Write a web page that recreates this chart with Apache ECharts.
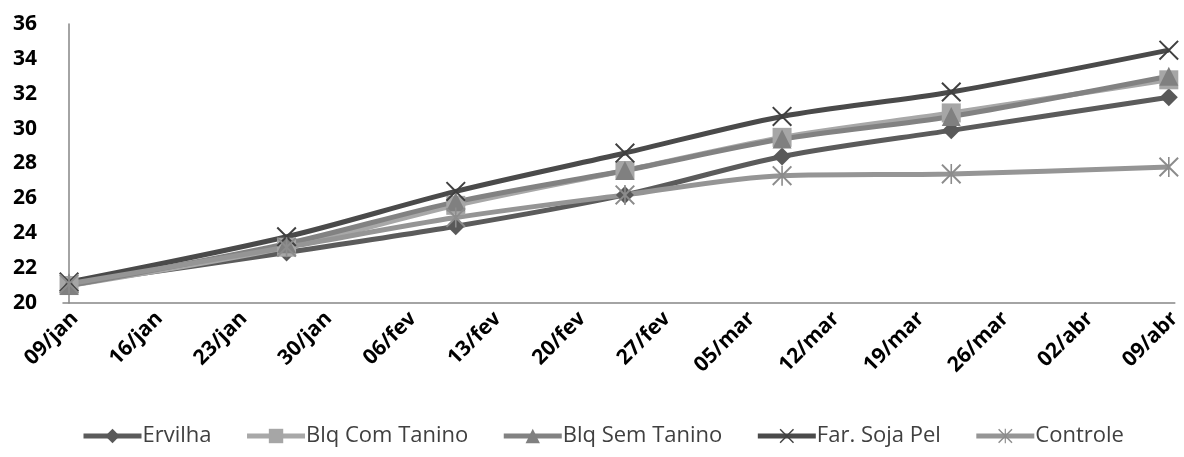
<!DOCTYPE html>
<html>
<head>
<meta charset="utf-8">
<script src="https://cdn.jsdelivr.net/npm/echarts@6/dist/echarts.min.js"></script>
<style>html,body{margin:0;padding:0;background:#fff;}#c{width:1184px;height:457px;}</style>
</head>
<body>
<div id="c"></div>
<script>
const dates = ['2012-01-09','2012-01-27','2012-02-10','2012-02-24','2012-03-08','2012-03-22','2012-04-09'];
const seriesNames = ['Ervilha','Blq Com Tanino','Blq Sem Tanino','Far. Soja Pel','Controle'];
const ervilha  = [21.1, 22.9, 24.4, 26.2, 28.4, 29.9, 31.8];
const blqCom   = [21.0, 23.2, 25.6, 27.6, 29.5, 30.9, 32.8];
const blqSem   = [21.0, 23.4, 25.8, 27.6, 29.4, 30.7, 33.0];
const farSoja  = [21.2, 23.8, 26.4, 28.6, 30.7, 32.1, 34.5];
const controle = [21.1, 23.2, 24.9, 26.2, 27.3, 27.4, 27.8];
const tickDays = [0,7,14,21,28,35,42,49,56,63,70,77,84,91];
const months = ['jan','fev','mar','abr','mai','jun','jul','ago','set','out','nov','dez'];

const DAY = 86400000;
const t0 = Date.parse(dates[0]);
const xs = dates.map(d => (Date.parse(d) - t0) / DAY);
function fmt(v){
  const d = new Date(t0 + Math.round(v) * DAY);
  const dd = String(d.getUTCDate()).padStart(2,'0');
  return dd + '/' + months[d.getUTCMonth()];
}
const pts = arr => arr.map((v,i) => [xs[i], v]);

const X = 'path://M0,7 L7,0 L50,43 L93,0 L100,7 L57,50 L100,93 L93,100 L50,57 L7,100 L0,93 L43,50 Z';
const AST = 'path://M0,7 L7,0 L50,43 L93,0 L100,7 L57,50 L100,93 L93,100 L50,57 L7,100 L0,93 L43,50 Z M46,0 L54,0 L54,100 L46,100 Z';

const styles = [
  {data: ervilha, line:'#5b5b5b', mark:'#595959', symbol:'diamond', size:18},
  {data: blqCom,  line:'#a8a8a8', mark:'#a6a6a6', symbol:'rect', size:19},
  {data: blqSem,  line:'#828282', mark:'#808080', symbol:'triangle', size:19},
  {data: farSoja, line:'#4a4a4a', mark:'#404040', symbol:X, size:20},
  {data: controle,line:'#959595', mark:'#8c8c8c', symbol:AST, size:20}
];

const chart = echarts.init(document.getElementById('c'), null, {renderer:'canvas'});
chart.setOption({
  animation:false,
  backgroundColor:'#fff',
  grid:{left:63, right:6, top:24, bottom:154, containLabel:false},
  xAxis:{
    type:'value', min:-0.5, max:91.5,
    axisLine:{show:true, lineStyle:{color:'#868686', width:1.5}},
    axisTick:{show:false},
    splitLine:{show:false},
    axisLabel:{
      customValues: tickDays,
      formatter: v => fmt(v),
      rotate:45, margin:18,
      padding:[0,-8,0,0],
      fontFamily:'Open Sans', fontWeight:'bold', fontSize:21, color:'#000'
    }
  },
  yAxis:{
    type:'value', min:20, max:36, interval:2,
    axisLine:{show:true, lineStyle:{color:'#868686', width:1.5}},
    axisTick:{show:false},
    splitLine:{show:false},
    axisLabel:{margin:26, fontFamily:'Open Sans', fontWeight:'bold', fontSize:21, color:'#000'}
  },
  legend:{
    left:76, top:420,
    itemWidth:58, itemHeight:18, itemGap:33,
    lineStyle:{width:5},
    textStyle:{fontFamily:'Open Sans', fontSize:22, color:'#404040', padding:[0,0,0,-4]},
    data: seriesNames
  },
  series: styles.map((s,i) => ({
    name: seriesNames[i],
    type:'line',
    smooth:0.3,
    data: pts(s.data),
    symbol: s.symbol,
    symbolSize: s.size,
    symbolKeepAspect:true,
    lineStyle:{color:s.line, width:5},
    itemStyle:{color:s.mark, borderWidth:0}
  }))
});
</script>
</body>
</html>
